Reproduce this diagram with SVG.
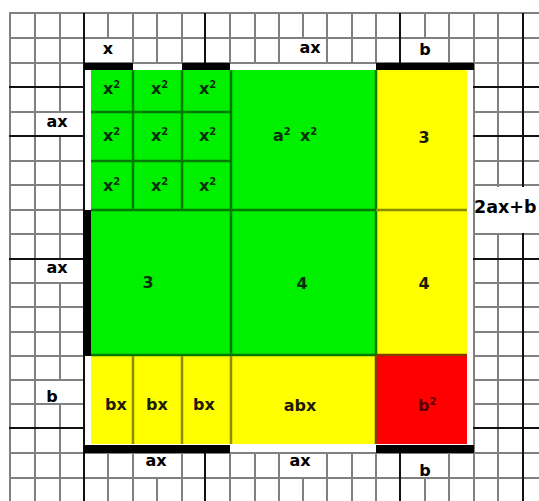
<svg xmlns="http://www.w3.org/2000/svg" width="539" height="501" viewBox="0 0 539 501">
<style>
.g{stroke:#808080;stroke-width:2}
.gm{stroke:#111;stroke-width:2}
.lg{stroke:#007a00;stroke-width:2.5}
.ly{stroke:#8c8c00;stroke-width:2.5}
.lr{stroke:#8a3a00;stroke-width:2.5}
.bar{fill:#000}
.wb{fill:#fff}
text{font-family:"DejaVu Sans","Liberation Sans",sans-serif;font-weight:bold;font-size:16px}
.lab{fill:#000;text-anchor:middle}
.tg{fill:#053005}
.ty{fill:#1c1c00}
.tr{fill:#5a0000}
.mid{text-anchor:middle}
</style>
<rect width="539" height="501" fill="#fff"/>
<g id="grid">
<g class="g">
<line x1="10" y1="13" x2="10" y2="501"/>
<line x1="35" y1="13" x2="35" y2="501"/>
<line x1="60" y1="13" x2="60" y2="501"/>
<line x1="108" y1="13" x2="108" y2="501"/>
<line x1="133" y1="13" x2="133" y2="501"/>
<line x1="157" y1="13" x2="157" y2="501"/>
<line x1="182" y1="13" x2="182" y2="501"/>
<line x1="230" y1="13" x2="230" y2="501"/>
<line x1="255" y1="13" x2="255" y2="501"/>
<line x1="279" y1="13" x2="279" y2="501"/>
<line x1="303" y1="13" x2="303" y2="501"/>
<line x1="327" y1="13" x2="327" y2="501"/>
<line x1="352" y1="13" x2="352" y2="501"/>
<line x1="376" y1="13" x2="376" y2="501"/>
<line x1="425" y1="13" x2="425" y2="501"/>
<line x1="449" y1="13" x2="449" y2="501"/>
<line x1="474" y1="13" x2="474" y2="501"/>
<line x1="498" y1="13" x2="498" y2="501"/>
<line x1="9" y1="13" x2="539" y2="13"/>
<line x1="9" y1="38" x2="539" y2="38"/>
<line x1="9" y1="63" x2="539" y2="63"/>
<line x1="9" y1="112" x2="539" y2="112"/>
<line x1="9" y1="161" x2="539" y2="161"/>
<line x1="9" y1="185" x2="539" y2="185"/>
<line x1="9" y1="210" x2="539" y2="210"/>
<line x1="9" y1="234" x2="539" y2="234"/>
<line x1="9" y1="283" x2="539" y2="283"/>
<line x1="9" y1="307" x2="539" y2="307"/>
<line x1="9" y1="332" x2="539" y2="332"/>
<line x1="9" y1="356" x2="539" y2="356"/>
<line x1="9" y1="380" x2="539" y2="380"/>
<line x1="9" y1="404" x2="539" y2="404"/>
<line x1="9" y1="453" x2="539" y2="453"/>
<line x1="9" y1="478" x2="539" y2="478"/>
</g>
<g class="gm">
<line x1="84" y1="13" x2="84" y2="501"/>
<line x1="205" y1="13" x2="205" y2="501"/>
<line x1="400" y1="13" x2="400" y2="501"/>
<line x1="523" y1="13" x2="523" y2="501"/>
<line x1="9" y1="87" x2="539" y2="87"/>
<line x1="9" y1="136" x2="539" y2="136"/>
<line x1="9" y1="259" x2="539" y2="259"/>
<line x1="9" y1="428" x2="539" y2="428"/>
</g>
</g>
<g id="label-backgrounds" class="wb">
<rect x="85" y="64" width="388" height="388"/>
<rect x="86" y="39" width="45" height="23"/>
<rect x="281" y="39" width="44" height="23"/>
<rect x="402" y="39" width="46" height="23"/>
<rect x="37" y="113" width="46" height="22"/>
<rect x="37" y="260" width="46" height="22"/>
<rect x="37" y="381" width="46" height="22"/>
<rect x="134" y="454" width="46" height="23"/>
<rect x="280" y="454" width="46" height="23"/>
<rect x="401" y="454" width="47" height="23"/>
<rect x="475" y="187" width="64" height="46"/>
</g>
<g id="connectors">
<rect class="bar" x="84" y="63" width="49" height="7"/>
<rect class="bar" x="182" y="63" width="48" height="7"/>
<rect class="bar" x="376" y="63" width="98" height="7"/>
<rect class="bar" x="83" y="210" width="8" height="146"/>
<rect class="bar" x="84" y="445" width="146" height="8"/>
<rect class="bar" x="376" y="445" width="98" height="8"/>
</g>
<g id="square">
<rect x="91" y="70" width="285" height="285" fill="#00f000"/>
<rect x="376" y="70" width="91" height="285" fill="#ffff00"/>
<rect x="91" y="355" width="285" height="89" fill="#ffff00"/>
<rect x="376" y="355" width="91" height="89" fill="#ff0000"/>
<g class="lg">
<line x1="133" y1="70" x2="133" y2="210"/>
<line x1="182" y1="70" x2="182" y2="210"/>
<line x1="231" y1="70" x2="231" y2="355"/>
<line x1="91" y1="112" x2="231" y2="112"/>
<line x1="91" y1="161" x2="231" y2="161"/>
<line x1="91" y1="210" x2="376" y2="210"/>
<line x1="91" y1="355" x2="376" y2="355"/>
<line x1="376" y1="70" x2="376" y2="355"/>
</g>
<g class="ly">
<line x1="376" y1="210" x2="467" y2="210"/>
<line x1="133" y1="356" x2="133" y2="444"/>
<line x1="182" y1="356" x2="182" y2="444"/>
<line x1="231" y1="356" x2="231" y2="444"/>
</g>
<g class="lr">
<line x1="376" y1="355" x2="467" y2="355"/>
<line x1="376" y1="355" x2="376" y2="444"/>
</g>
</g>
<g id="side-labels">
<text class="lab" x="108" y="54">x</text>
<text class="lab" x="310" y="53">ax</text>
<text class="lab" x="425" y="55">b</text>
<text class="lab" x="57" y="127">ax</text>
<text class="lab" x="57" y="273">ax</text>
<text class="lab" x="52" y="402">b</text>
<text class="lab" x="156" y="466">ax</text>
<text class="lab" x="300" y="466">ax</text>
<text class="lab" x="425" y="476">b</text>
<text fill="#000" x="474" y="213" style="font-size:17.5px">2ax+b</text>
</g>
<g id="cells-x2" class="tg">
<text x="103" y="94">x<tspan dy="-6" font-size="10">2</tspan></text>
<text x="151" y="94">x<tspan dy="-6" font-size="10">2</tspan></text>
<text x="199" y="94">x<tspan dy="-6" font-size="10">2</tspan></text>
<text x="103" y="141">x<tspan dy="-6" font-size="10">2</tspan></text>
<text x="151" y="141">x<tspan dy="-6" font-size="10">2</tspan></text>
<text x="199" y="141">x<tspan dy="-6" font-size="10">2</tspan></text>
<text x="103" y="191">x<tspan dy="-6" font-size="10">2</tspan></text>
<text x="151" y="191">x<tspan dy="-6" font-size="10">2</tspan></text>
<text x="199" y="191">x<tspan dy="-6" font-size="10">2</tspan></text>
</g>
<g id="cell-a2x2" class="tg">
<text x="273" y="141">a<tspan dy="-6" font-size="10">2</tspan><tspan x="300" dy="6">x</tspan><tspan dy="-6" font-size="10">2</tspan></text>
</g>
<g id="cell-3-yellow" class="ty"><text class="mid" x="424" y="143">3</text></g>
<g id="cell-3-green" class="tg"><text class="mid" x="148" y="288">3</text></g>
<g id="cell-4-green" class="tg"><text class="mid" x="302" y="289">4</text></g>
<g id="cell-4-yellow" class="ty"><text class="mid" x="424" y="289">4</text></g>
<g id="cells-bx" class="ty">
<text class="mid" x="116" y="410">bx</text>
<text class="mid" x="157" y="410">bx</text>
<text class="mid" x="204" y="410">bx</text>
</g>
<g id="cell-abx" class="ty"><text class="mid" x="300" y="411">abx</text></g>
<g id="cell-b2" class="tr"><text x="418" y="411">b<tspan dy="-6" font-size="10">2</tspan></text></g>
</svg>
